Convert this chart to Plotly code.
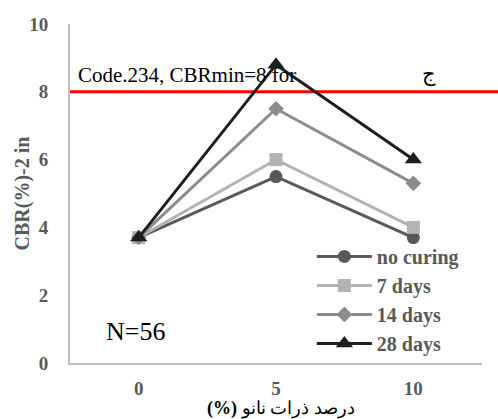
import plotly.graph_objects as go

# Nano-particle content (%) on the x axis
nano_pct = ["0", "5", "10"]

# CBR values for each curing period
cbr_no_curing = [3.7, 5.5, 3.7]
cbr_7_days = [3.7, 6.0, 4.0]
cbr_14_days = [3.7, 7.5, 5.3]
cbr_28_days = [3.7, 8.8, 6.0]

series_names = ["no curing", "7 days", "14 days", "28 days"]
cbr_min = 8

serif = "Liberation Serif"
label_grey = "#595959"

styles = [
    dict(color="#595959", symbol="circle", size=13),
    dict(color="#b3b3b3", symbol="square", size=13),
    dict(color="#8c8c8c", symbol="diamond", size=12),
    dict(color="#1e1e1e", symbol="triangle-up", size=15),
]

fig = go.Figure()
for name, vals, st in zip(series_names,
                          [cbr_no_curing, cbr_7_days, cbr_14_days, cbr_28_days],
                          styles):
    fig.add_trace(go.Scatter(
        x=nano_pct, y=vals, name=name, mode="lines+markers",
        line=dict(color=st["color"], width=3),
        marker=dict(color=st["color"], symbol=st["symbol"], size=st["size"]),
    ))

# Minimum CBR requirement line
fig.add_shape(type="line", xref="paper", yref="y", x0=0, x1=1.05,
              y0=cbr_min, y1=cbr_min, line=dict(color="#ff0000", width=3),
              layer="below")

fig.add_annotation(xref="paper", yref="y", x=0.015, y=8.5, xanchor="left",
                   yanchor="middle", text="Code.234, CBRmin=8 for",
                   showarrow=False, font=dict(family=serif, size=21, color="black"))
fig.add_annotation(xref="paper", yref="y", x=0.871, y=8.5, xanchor="center",
                   yanchor="middle", text="ج", showarrow=False,
                   font=dict(family=serif, size=21, color="black"))
fig.add_annotation(xref="paper", yref="y", x=0.083, y=0.92, xanchor="left",
                   yanchor="middle", text="N=56", showarrow=False,
                   font=dict(family=serif, size=26, color="black"))

# Axis titles
fig.add_annotation(xref="paper", yref="paper", x=-0.1165, y=0.5, xanchor="center",
                   yanchor="middle", textangle=-90, text="<b>CBR(%)-2 in</b>",
                   showarrow=False, font=dict(family=serif, size=20, color=label_grey))
fig.add_annotation(xref="paper", yref="paper", x=0.512, y=-0.133, xanchor="center",
                   yanchor="middle", text="<b>(%)</b> درصد ذرات نانو",
                   showarrow=False, font=dict(family=serif, size=18, color="black"))

fig.update_layout(
    width=498, height=419,
    margin=dict(l=70, r=16, t=24, b=56, autoexpand=False),
    paper_bgcolor="white", plot_bgcolor="white",
    font=dict(family=serif, color=label_grey),
    legend=dict(x=0.587, y=0.372, xanchor="left", yanchor="top",
                bgcolor="rgba(0,0,0,0)", itemwidth=55,
                font=dict(family=serif, size=20, color=label_grey, weight="bold"),
                tracegroupgap=0),
    showlegend=True,
)
fig.update_xaxes(
    type="category", range=[-0.5, 2.5], showgrid=False, zeroline=False,
    showline=True, linecolor="#bfbfbf", linewidth=2, ticks="",
    automargin=False, ticklabelstandoff=7,
    tickfont=dict(family=serif, size=19, color=label_grey, weight="bold"),
)
fig.update_yaxes(
    range=[0, 10], dtick=2, showgrid=False, zeroline=False,
    showline=True, linecolor="#bfbfbf", linewidth=2, ticks="",
    automargin=False, ticklabelstandoff=16,
    tickfont=dict(family=serif, size=19, color=label_grey, weight="bold"),
)

fig.write_html("out.html")
